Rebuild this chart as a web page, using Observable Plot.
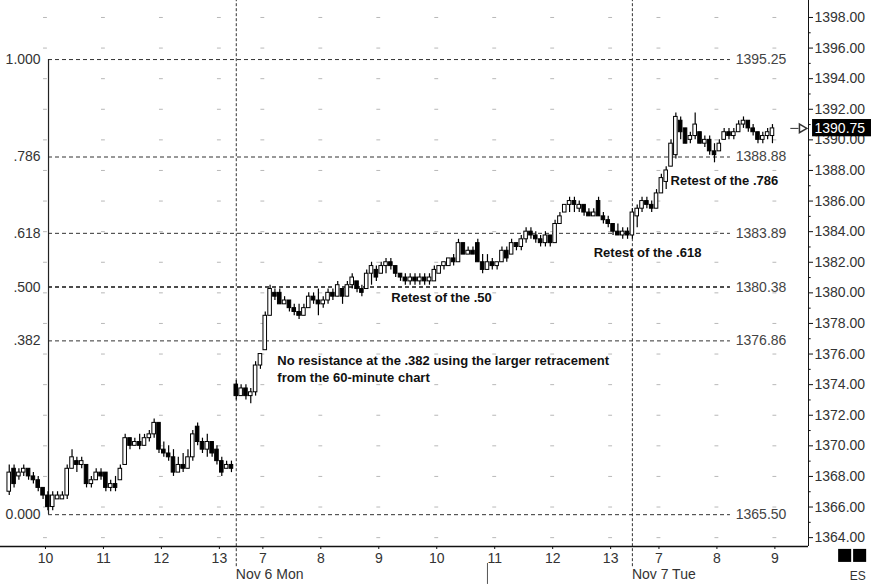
<!DOCTYPE html>
<html>
<head>
<meta charset="utf-8">
<script src="https://cdn.jsdelivr.net/npm/d3@7"></script>
<script src="https://cdn.jsdelivr.net/npm/@observablehq/plot@0.6"></script>
<style>
  html, body { margin: 0; padding: 0; background: #fff; }
  #chart { width: 872px; height: 584px; overflow: hidden; }
</style>
</head>
<body>
<div id="chart"></div>
<script>
// ---- DATA (5-minute bars: [open, high, low, close]) ----
const day1Bars = [
  [1367.00,1368.75,1366.75,1368.25],[1368.50,1368.75,1367.25,1367.50],[1368.00,1368.50,1367.75,1368.25],
  [1368.25,1368.75,1368.00,1368.50],[1368.50,1368.50,1367.75,1368.00],[1368.00,1368.25,1367.50,1367.75],
  [1367.75,1368.00,1367.00,1367.25],[1367.25,1367.25,1366.50,1366.75],[1366.75,1367.00,1365.75,1366.00],
  [1366.00,1367.00,1365.75,1366.75],[1366.50,1367.00,1366.50,1366.75],[1366.50,1367.00,1366.50,1366.75],
  [1366.75,1368.75,1366.50,1368.50],[1368.50,1369.75,1368.50,1369.25],[1369.00,1369.25,1368.25,1368.75],
  [1368.75,1369.25,1368.50,1369.00],[1368.75,1368.75,1367.25,1367.50],[1367.50,1368.00,1367.25,1367.75],
  [1367.75,1368.50,1367.75,1368.25],[1368.25,1368.50,1367.75,1368.00],[1368.25,1368.25,1367.00,1367.25],
  [1367.25,1367.75,1367.00,1367.50],[1367.50,1368.00,1367.00,1367.25],[1367.75,1368.75,1367.75,1368.50],
  [1368.75,1370.75,1368.75,1370.50],[1370.50,1370.50,1369.75,1370.00],[1370.00,1370.50,1370.00,1370.25],
  [1370.25,1370.75,1369.75,1370.00],[1370.00,1370.75,1370.00,1370.50],[1370.50,1371.00,1370.25,1370.75],
  [1370.75,1371.75,1370.50,1371.50],[1371.50,1371.50,1369.50,1369.75],[1369.75,1370.25,1369.25,1369.50],
  [1369.50,1370.00,1369.00,1369.25],[1369.25,1369.75,1368.00,1368.25],[1368.25,1369.25,1368.25,1368.75],
  [1368.75,1369.50,1368.25,1368.50],[1368.50,1369.75,1368.50,1369.25],[1369.25,1371.00,1369.00,1370.75],
  [1371.25,1371.50,1370.00,1370.25],[1370.25,1370.50,1369.50,1369.75],[1369.75,1370.75,1369.25,1370.25],
  [1370.25,1370.25,1369.25,1369.50],[1369.75,1370.00,1368.75,1369.00],[1369.00,1369.25,1368.00,1368.25],
  [1368.50,1369.00,1368.50,1368.75],[1368.75,1369.00,1368.25,1368.50]
];
const day2Bars = [
  [1374.00,1374.25,1373.00,1373.25],[1373.25,1374.00,1373.25,1373.75],[1373.75,1374.00,1373.00,1373.25],
  [1373.25,1373.75,1372.75,1373.50],[1373.50,1375.50,1373.25,1375.25],[1375.25,1376.00,1375.00,1376.00],
  [1376.25,1378.75,1376.25,1378.50],[1378.50,1380.50,1378.50,1380.25],[1380.00,1380.25,1379.50,1379.75],
  [1380.00,1380.25,1379.25,1379.25],[1379.25,1379.75,1379.25,1379.50],[1379.50,1379.50,1378.75,1379.00],
  [1379.00,1379.25,1378.50,1378.75],[1378.75,1379.25,1378.25,1378.50],[1378.50,1379.25,1378.50,1379.00],
  [1379.00,1380.00,1379.00,1379.75],[1379.75,1380.00,1379.25,1379.50],[1379.50,1380.25,1378.50,1379.25],
  [1379.25,1379.75,1379.00,1379.50],[1379.50,1380.25,1379.25,1380.00],[1380.00,1380.25,1379.50,1379.75],
  [1379.75,1380.75,1379.75,1380.50],[1380.25,1380.25,1379.25,1379.75],[1379.75,1380.75,1379.75,1380.50],
  [1380.50,1381.25,1380.25,1381.00],[1380.75,1380.75,1380.00,1380.25],[1380.25,1380.50,1379.75,1380.00],
  [1380.25,1381.50,1380.25,1381.25],[1381.25,1382.00,1380.50,1381.75],[1381.50,1381.75,1380.75,1381.00],
  [1381.25,1382.00,1381.25,1381.75],[1381.75,1382.25,1381.25,1382.00],[1382.00,1382.25,1381.50,1381.75],
  [1381.75,1381.75,1381.00,1381.25],[1381.25,1381.25,1380.75,1381.00],[1381.00,1381.25,1380.50,1380.75],
  [1380.75,1381.25,1380.50,1381.00],[1381.00,1381.25,1380.50,1380.75],[1380.75,1381.25,1380.50,1381.00],
  [1381.00,1381.25,1380.50,1380.75],[1380.75,1381.25,1380.50,1381.00],[1380.75,1381.75,1380.75,1381.50],
  [1381.25,1381.75,1381.25,1381.75],[1381.75,1382.00,1381.50,1382.00],[1381.75,1382.25,1381.75,1382.25],
  [1382.25,1382.50,1381.75,1382.00],[1382.00,1383.50,1382.00,1383.25],[1383.25,1383.25,1382.50,1382.50],
  [1382.50,1383.00,1382.50,1382.75],[1382.75,1383.00,1382.50,1382.50],[1383.25,1383.50,1382.00,1382.00],
  [1382.00,1382.50,1381.25,1381.50],[1381.50,1382.50,1381.50,1382.00],[1382.00,1382.25,1381.50,1381.75],
  [1381.75,1382.00,1381.50,1382.00],[1382.00,1383.00,1382.00,1382.75],[1382.75,1383.00,1382.00,1382.25],
  [1382.50,1383.50,1382.50,1383.25],[1383.25,1383.25,1382.75,1383.00],[1383.00,1383.75,1382.75,1383.50],
  [1383.50,1384.25,1383.25,1384.00],[1384.00,1384.25,1383.50,1383.75],[1383.75,1384.00,1383.25,1383.50],
  [1383.50,1383.75,1383.00,1383.25],[1383.25,1384.00,1383.00,1383.75],[1383.75,1383.75,1383.00,1383.25],
  [1383.25,1384.75,1383.25,1384.50],[1384.50,1385.25,1384.50,1385.00],[1385.25,1385.75,1385.25,1385.75],
  [1385.75,1386.25,1385.25,1386.00],[1386.00,1386.25,1385.25,1385.75],[1385.50,1386.00,1385.25,1385.75],
  [1385.75,1385.75,1385.00,1385.25],[1385.25,1385.50,1385.00,1385.00],[1385.00,1385.50,1385.00,1385.25],
  [1386.00,1386.25,1385.00,1385.00],[1385.00,1385.25,1384.50,1384.75],[1384.75,1385.00,1384.25,1384.50],
  [1384.50,1384.50,1383.75,1384.00],[1384.00,1384.50,1383.75,1383.75],[1383.75,1384.25,1383.50,1384.00],
  [1384.00,1384.25,1383.50,1383.75]
];
const day3Bars = [
  [1383.75,1385.50,1383.50,1385.25],[1385.00,1385.75,1384.25,1385.50],[1385.50,1386.25,1385.25,1386.00],
  [1386.00,1386.25,1385.50,1385.75],[1385.75,1386.00,1385.25,1385.50],[1385.50,1386.75,1385.50,1386.50],
  [1386.50,1387.75,1386.50,1387.50],[1387.25,1388.25,1386.75,1388.00],[1388.25,1390.00,1388.25,1389.75],
  [1389.00,1391.75,1388.75,1391.50],[1391.25,1391.50,1390.00,1390.50],[1390.75,1390.75,1389.75,1389.75],
  [1390.00,1390.50,1389.75,1390.25],[1390.25,1391.75,1390.00,1391.00],[1390.50,1390.50,1389.75,1389.75],
  [1389.75,1390.25,1389.50,1390.00],[1390.00,1390.25,1389.00,1389.25],[1389.25,1389.75,1388.50,1389.00],
  [1389.25,1390.00,1389.25,1389.75],[1390.00,1390.75,1390.00,1390.50],[1390.50,1390.75,1390.00,1390.25],
  [1390.25,1390.75,1390.00,1390.50],[1390.50,1391.25,1390.50,1391.00],[1391.00,1391.50,1390.75,1391.25],
  [1391.25,1391.25,1390.50,1390.75],[1390.75,1391.00,1390.25,1390.50],[1390.50,1390.50,1389.75,1390.00],
  [1390.00,1390.50,1389.75,1390.25],[1390.25,1390.75,1390.00,1390.50],[1390.25,1391.00,1389.75,1390.75]
];
// bar slot (5-minute slots) of each session's first bar
const day1StartSlot = 1;    // Nov 3, 9:20
const day2StartSlot = 48;   // Nov 6, 6:30
const day3StartSlot = 130;  // Nov 7, 6:30
const dayBreakSlots = [48, 130];
const dayLabels = ["Nov 6 Mon", "Nov 7 Tue"];

const hourTickSlots  = [9, 21, 33, 45, 54, 66, 78, 90, 102, 114, 126, 136, 148, 160];
const hourTickLabels = ["10","11","12","13","7","8","9","10","11","12","13","7","8","9"];

const fibRatioLabels = ["1.000", ".786", ".618", ".500", ".382", "0.000"];
const fibPrices      = [1395.25, 1388.88, 1383.89, 1380.38, 1376.86, 1365.50];

const priceTicks      = [1364,1366,1368,1370,1372,1374,1376,1378,1380,1382,1384,1386,1388,1390,1392,1394,1396,1398];
const priceMinorTicks = [1365,1367,1369,1371,1373,1375,1377,1379,1381,1383,1385,1387,1389,1391,1393,1395,1397];

const lastPrice = 1390.75;
const symbolLabel = "ES";
const annotationTexts = [
  "No resistance at the .382 using the larger retracement\nfrom the 60-minute chart",
  "Retest of the .50",
  "Retest of the .618",
  "Retest of the .786"
];

// ---- BUILD ----
const bars = [
  ...day1Bars.map((b, k) => ({slot: day1StartSlot + k, o: b[0], h: b[1], l: b[2], c: b[3]})),
  ...day2Bars.map((b, k) => ({slot: day2StartSlot + k, o: b[0], h: b[1], l: b[2], c: b[3]})),
  ...day3Bars.map((b, k) => ({slot: day3StartSlot + k, o: b[0], h: b[1], l: b[2], c: b[3]}))
];
const mid = d => d.slot + 0.5;
const half = 0.37;

const X0 = -0.31, X1 = 166.96;
const Y0 = 1363.42, Y1 = 1399.11;

const tickLabelMap = new Map(hourTickSlots.map((s, i) => [s, hourTickLabels[i]]));
const gridPts = [];
for (const s of hourTickSlots) for (const p of priceTicks) gridPts.push({s, p});

const fmt2 = d3.format(".2f");
const FONT = "'Liberation Sans', Arial, Helvetica, sans-serif";
const FIB_X1 = 9.63, FIB_X2 = 150.8;

const chart = Plot.plot({
  width: 872,
  height: 584,
  marginLeft: 0,
  marginRight: 64,
  marginTop: 0,
  marginBottom: 38,
  style: {fontFamily: FONT, background: "#fff", overflow: "visible"},
  x: {type: "linear", domain: [X0, X1], axis: null},
  y: {type: "linear", domain: [Y0, Y1], axis: null},
  marks: [
    // faint dotted grid
    Plot.ruleY(gridPts, {x1: d => d.s - 0.4, x2: d => d.s + 0.4, y: "p", stroke: "#b8b8b8", strokeWidth: 1}),
    // fibonacci levels
    Plot.ruleY(fibPrices.filter((d, i) => fibRatioLabels[i] !== ".500"),
      {x1: FIB_X1, x2: FIB_X2, y: d => d, stroke: "#333", strokeWidth: 1, strokeDasharray: "4,3"}),
    Plot.ruleY(fibPrices.filter((d, i) => fibRatioLabels[i] === ".500"),
      {x1: FIB_X1, x2: FIB_X2, y: d => d, stroke: "#111", strokeWidth: 1.6, strokeDasharray: "4,3"}),
    Plot.ruleX([FIB_X1], {y1: fibPrices[5], y2: fibPrices[0], stroke: "#222", strokeWidth: 1.2}),
    Plot.text(fibPrices, {x: 8.0, y: d => d, text: (d, i) => fibRatioLabels[i], textAnchor: "end",
      fontSize: 14, fill: "#333"}),
    Plot.text(fibPrices, {x: 151.9, y: d => d, text: d => fmt2(d), textAnchor: "start",
      fontSize: 14, fill: "#444"}),
    // session separators
    Plot.ruleX(dayBreakSlots, {x: d => d + 0.5, y1: 1362.1, y2: Y1, stroke: "#333", strokeWidth: 1, strokeDasharray: "3,2"}),
    // candles
    Plot.ruleX(bars, {x: mid, y1: "l", y2: "h", stroke: "#000", strokeWidth: 1.2}),
    Plot.rect(bars.filter(d => d.c > d.o), {x1: d => mid(d) - half, x2: d => mid(d) + half, y1: "o", y2: "c",
      fill: "#fff", stroke: "#000", strokeWidth: 1}),
    Plot.rect(bars.filter(d => d.c < d.o), {x1: d => mid(d) - half, x2: d => mid(d) + half, y1: "o", y2: "c",
      fill: "#000", stroke: "#000", strokeWidth: 1}),
    Plot.ruleY(bars.filter(d => d.c === d.o), {x1: d => mid(d) - half, x2: d => mid(d) + half, y: "o", stroke: "#000"}),
    // axes lines
    Plot.ruleY([Y0], {x1: X0, x2: X1, stroke: "#111", strokeWidth: 1.5}),
    Plot.ruleX([X1], {y1: Y0, y2: Y1, stroke: "#111", strokeWidth: 1}),
    // right price axis
    Plot.axisY(priceTicks, {anchor: "right", tickFormat: fmt2, tickSize: 4, tickPadding: 2,
      fontSize: 14, color: "#333", stroke: "#111"}),
    Plot.ruleY(priceMinorTicks, {x1: X1, x2: X1 + 0.55, y: d => d, stroke: "#111"}),
    // bottom time axis
    Plot.axisX(hourTickSlots, {anchor: "bottom", tickFormat: d => tickLabelMap.get(d), tickSize: 3, tickPadding: 4,
      fontSize: 14, color: "#333", stroke: "#111"}),
    Plot.text(dayLabels, {x: (d, i) => dayBreakSlots[i] + 0.4, y: 1361.6, text: d => d, textAnchor: "start",
      fontSize: 14, fill: "#333"}),
    // annotations
    Plot.text([annotationTexts[0]], {x: 57.0, y: 1375.1, text: d => d, textAnchor: "start", fontSize: 13,
      fontWeight: "bold", fill: "#111", lineHeight: 1.35}),
    Plot.text([annotationTexts[1]], {x: 80.6, y: 1379.7, text: d => d, textAnchor: "start", fontSize: 13,
      fontWeight: "bold", fill: "#111"}),
    Plot.text([annotationTexts[2]], {x: 122.5, y: 1382.6, text: d => d, textAnchor: "start", fontSize: 13,
      fontWeight: "bold", fill: "#111"}),
    Plot.text([annotationTexts[3]], {x: 138.4, y: 1387.35, text: d => d, textAnchor: "start", fontSize: 13,
      fontWeight: "bold", fill: "#111"}),
    // last price marker (box partly covers the 1390.00 tick label, as in the source)
    Plot.ruleY([lastPrice], {x1: 163.3, x2: 165.0, y: d => d, stroke: "#333"}),
    Plot.dot([lastPrice], {x: 165.6, y: d => d, symbol: "triangle", rotate: 90, r: 3.2, fill: "#fff", stroke: "#333"}),
    Plot.rect([lastPrice], {x1: 167.8, x2: 180.0, y1: d => d + 0.58, y2: d => d - 0.55, fill: "#000"}),
    Plot.text([lastPrice], {x: 168.2, y: d => d, text: d => fmt2(d), textAnchor: "start", fontSize: 14, fill: "#fff"}),
    // symbol box at bottom right
    Plot.rect([0, 1], {x1: d => 173.2 + d * 3.1, x2: d => 175.9 + d * 3.1, y1: 1363.23, y2: 1362.38, fill: "#000"}),
    Plot.text([symbolLabel], {x: 175.5, y: 1361.45, text: d => d, textAnchor: "start", fontSize: 12, fill: "#333"}),
    // small cursor mark below the axis
    Plot.ruleX([100.5], {y1: 1362.31, y2: 1360.94, stroke: "#555", strokeWidth: 1})
  ]
});
document.getElementById("chart").appendChild(chart);
</script>
</body>
</html>
